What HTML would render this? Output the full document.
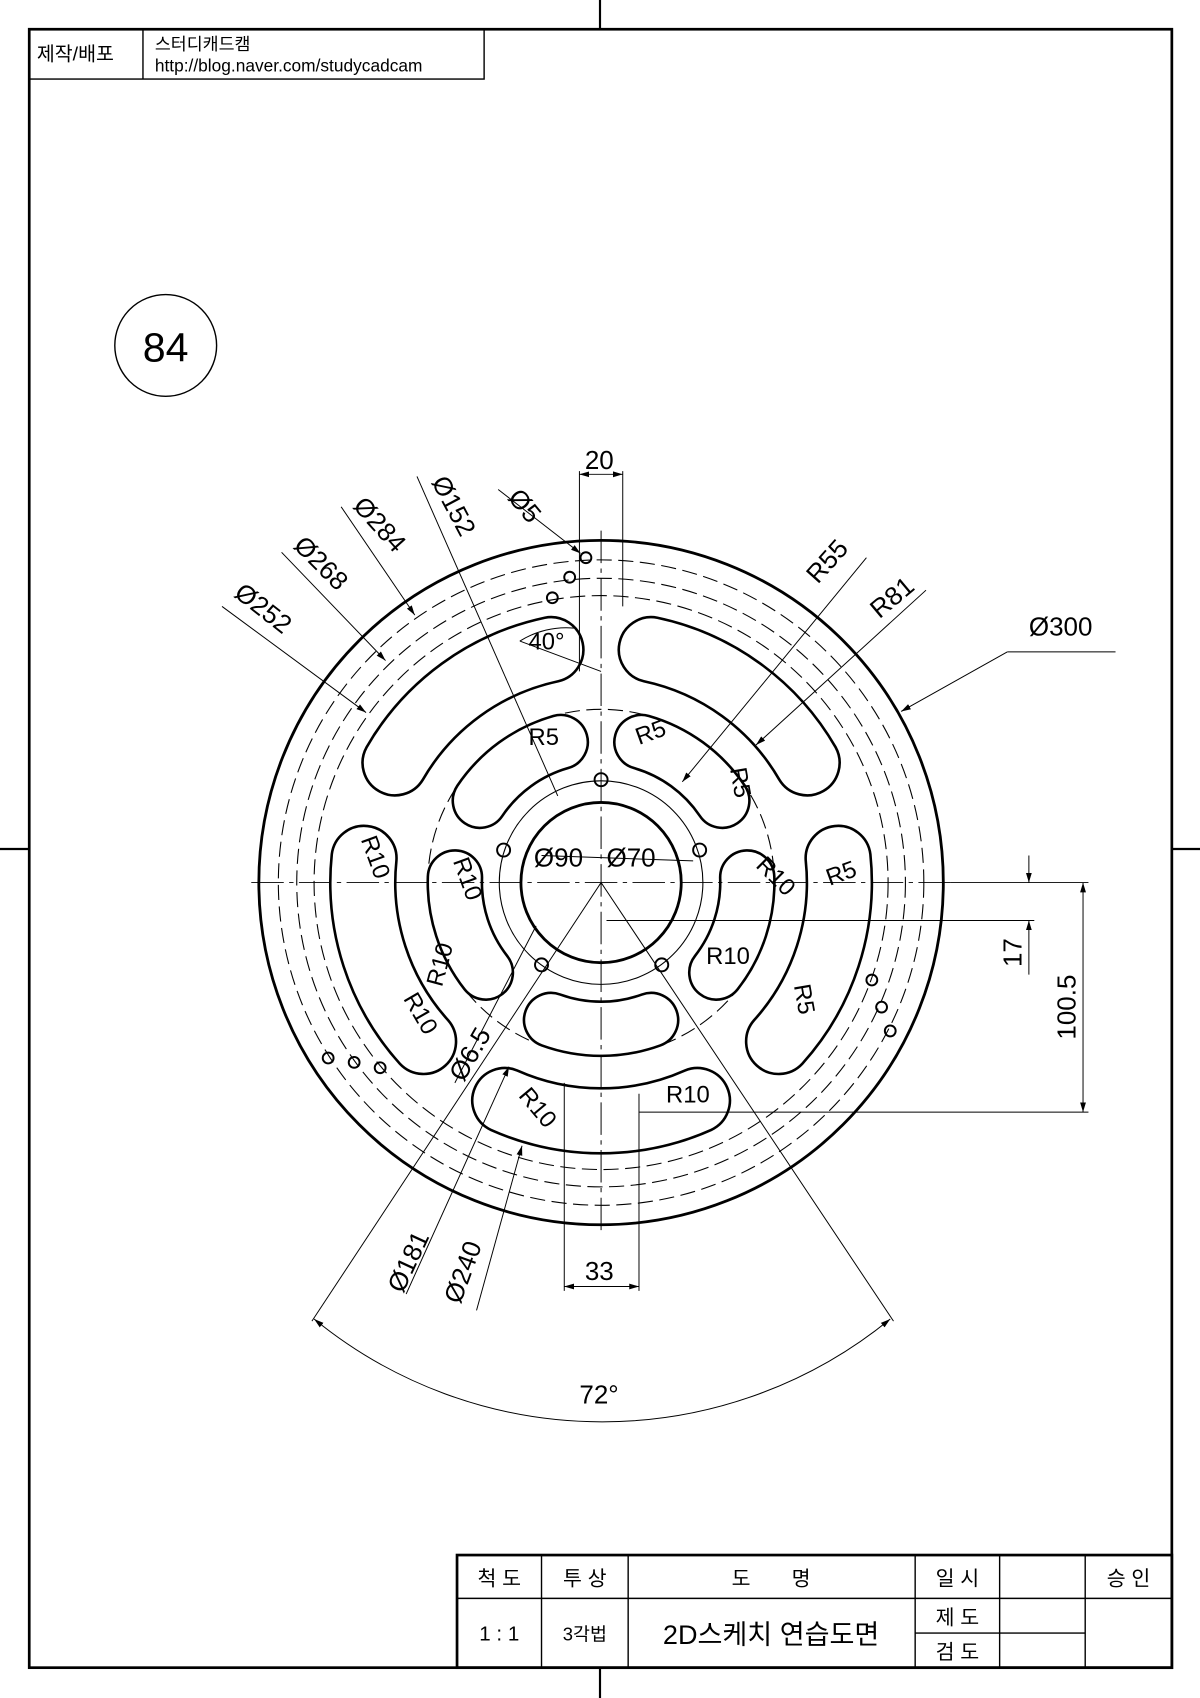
<!DOCTYPE html>
<html><head><meta charset="utf-8"><style>
html,body{margin:0;padding:0;background:#fff}
svg{display:block}
text{font-family:"Liberation Sans","Noto Sans CJK KR",sans-serif;fill:#000}
</style></head><body>
<svg width="1200" height="1698" viewBox="0 0 1108 1568" preserveAspectRatio="none" xmlns="http://www.w3.org/2000/svg">
<defs>
<marker id="a" viewBox="0 0 10 10" refX="10" refY="5" markerWidth="9" markerHeight="9" orient="auto-start-reverse" markerUnits="userSpaceOnUse"><path d="M0,2 L10,5 L0,8 z" fill="#000"/></marker>
<path id="os" d="M477.7,988.6 A190,190 0 0 0 632.3,988.6 A30,30 0 0 1 656.7,1043.4 A250,250 0 0 1 453.3,1043.4 A30,30 0 0 1 477.7,988.6 Z" fill="none" stroke="#000" stroke-width="2.4"/>
<path id="is" d="M517.4,918.4 A110,110 0 0 0 592.6,918.4 A25,25 0 0 1 609.7,965.4 A160,160 0 0 1 500.3,965.4 A25,25 0 0 1 517.4,918.4 Z" fill="none" stroke="#000" stroke-width="2.4"/>
</defs>
<rect x="27" y="27" width="1055" height="1513" fill="none" stroke="#000" stroke-width="2.5"/>
<g stroke="#000" stroke-width="2"><line x1="554" y1="0" x2="554" y2="27"/><line x1="554" y1="1540" x2="554" y2="1568"/><line x1="0" y1="784" x2="27" y2="784"/><line x1="1082" y1="784" x2="1108" y2="784"/></g>
<rect x="27" y="27" width="420" height="46" fill="none" stroke="#000" stroke-width="1.3"/>
<line x1="132" y1="27" x2="132" y2="73" stroke="#000" stroke-width="1.3"/>
<text x="34" y="56" font-size="18">제작/배포</text>
<text x="143" y="46" font-size="16">스터디캐드캠</text>
<text x="143" y="66" font-size="16">http://blog.naver.com/studycadcam</text>
<circle cx="153" cy="319" r="47" fill="none" stroke="#000" stroke-width="1.3"/>
<text x="153" y="334" font-size="38" text-anchor="middle">84</text>

<g fill="none" stroke="#000">
<circle cx="555" cy="815" r="316" stroke-width="2.6"/>
<circle cx="555" cy="815" r="298" stroke-width="1" stroke-dasharray="14,6"/>
<circle cx="555" cy="815" r="281" stroke-width="1" stroke-dasharray="14,6"/>
<circle cx="555" cy="815" r="265" stroke-width="1" stroke-dasharray="14,6"/>
<circle cx="555" cy="815" r="160" stroke-width="1" stroke-dasharray="14,6"/>
<circle cx="555" cy="815" r="94" stroke-width="1"/>
<circle cx="555" cy="815" r="74" stroke-width="2.6"/>
<use href="#os"/><use href="#os" transform="rotate(72 555 815)"/><use href="#os" transform="rotate(144 555 815)"/><use href="#os" transform="rotate(216 555 815)"/><use href="#os" transform="rotate(288 555 815)"/>
<use href="#is"/><use href="#is" transform="rotate(72 555 815)"/><use href="#is" transform="rotate(144 555 815)"/><use href="#is" transform="rotate(216 555 815)"/><use href="#is" transform="rotate(288 555 815)"/>
<g stroke-width="1.8">
<circle cx="555" cy="720" r="6"/><circle cx="465" cy="785" r="6"/><circle cx="646" cy="785" r="6"/><circle cx="500" cy="891" r="6"/><circle cx="611" cy="891" r="6"/>
<circle cx="541" cy="515" r="5"/><circle cx="526" cy="533" r="5"/><circle cx="510" cy="552" r="5"/>
<circle cx="303" cy="977" r="5"/><circle cx="327" cy="981" r="5"/><circle cx="351" cy="986" r="5"/>
<circle cx="805" cy="905" r="5"/><circle cx="814" cy="930" r="5"/><circle cx="822" cy="952" r="5"/>
</g>
<g stroke-width="0.9" stroke-dasharray="30,5,4,5">
<line x1="232" y1="815" x2="878" y2="815"/><line x1="555" y1="490" x2="555" y2="1140"/>
</g>
</g>

<g fill="none" stroke="#000" stroke-width="0.9">
<line x1="535" y1="435" x2="535" y2="620"/><line x1="575" y1="435" x2="575" y2="560"/>
<line x1="535" y1="438" x2="575" y2="438" marker-start="url(#a)" marker-end="url(#a)"/>
<line x1="521" y1="1000" x2="521" y2="1192"/><line x1="590" y1="1010" x2="590" y2="1192"/>
<line x1="521" y1="1188" x2="590" y2="1188" marker-start="url(#a)" marker-end="url(#a)"/>
<line x1="560" y1="850" x2="955" y2="850"/><line x1="590" y1="1027" x2="1005" y2="1027"/><line x1="878" y1="815" x2="1005" y2="815"/>
<line x1="950" y1="790" x2="950" y2="815" marker-end="url(#a)"/><line x1="950" y1="900" x2="950" y2="850" marker-end="url(#a)"/>
<line x1="1000" y1="815" x2="1000" y2="1027" marker-start="url(#a)" marker-end="url(#a)"/>
<line x1="1030" y1="602" x2="930" y2="602"/><line x1="930" y1="602" x2="832" y2="657" marker-end="url(#a)"/>
<line x1="800" y1="515" x2="630" y2="722" marker-end="url(#a)"/><line x1="855" y1="545" x2="698" y2="688" marker-end="url(#a)"/>
<line x1="205" y1="560" x2="338" y2="658" marker-end="url(#a)"/>
<line x1="260" y1="510" x2="356" y2="610" marker-end="url(#a)"/>
<line x1="315" y1="468" x2="383" y2="568" marker-end="url(#a)"/>
<line x1="385" y1="440" x2="515" y2="735"/>
<line x1="460" y1="452" x2="536" y2="511" marker-end="url(#a)"/>
<line x1="555" y1="815" x2="288" y2="1220"/><line x1="555" y1="815" x2="825" y2="1220"/>
<path d="M290,1218 A420,420 0 0 0 822,1218" marker-start="url(#a)" marker-end="url(#a)"/>
<line x1="440" y1="1210" x2="482" y2="1058" marker-end="url(#a)"/>
<line x1="375" y1="1195" x2="470" y2="985" marker-end="url(#a)"/>
<line x1="495" y1="855" x2="420" y2="1000"/>
<line x1="480" y1="592" x2="555" y2="620"/>
<path d="M480,592 A80,80 0 0 1 530,580"/>
<line x1="500" y1="790" x2="640" y2="795"/>
</g>

<g font-size="24">
<text x="540" y="433">20</text>
<text x="540" y="1182">33</text>
<text x="535" y="1296">72°</text>
<text x="950" y="587">Ø300</text>
<text x="493" y="800">Ø90</text>
<text x="560" y="800">Ø70</text>
<text transform="translate(943,893) rotate(-90)">17</text>
<text transform="translate(993,960) rotate(-90)">100.5</text>
<text transform="translate(755,540) rotate(-48)">R55</text>
<text transform="translate(812,572) rotate(-40)">R81</text>
<text transform="translate(468,460) rotate(50)">Ø5</text>
<text transform="translate(398,445) rotate(62)">Ø152</text>
<text transform="translate(325,468) rotate(48)">Ø284</text>
<text transform="translate(270,505) rotate(45)">Ø268</text>
<text transform="translate(215,550) rotate(38)">Ø252</text>
<text x="488" y="600" font-size="22">40°</text>
<text x="488" y="688" font-size="22">R5</text>
<text transform="translate(590,688) rotate(-20)" font-size="22">R5</text>
<text transform="translate(674,710) rotate(80)" font-size="22">R5</text>
<text transform="translate(766,818) rotate(-20)" font-size="22">R5</text>
<text transform="translate(733,910) rotate(80)" font-size="22">R5</text>
<text transform="translate(697,800) rotate(45)" font-size="22">R10</text>
<text x="652" y="890" font-size="22">R10</text>
<text x="615" y="1018" font-size="22">R10</text>
<text transform="translate(478,1012) rotate(50)" font-size="22">R10</text>
<text transform="translate(372,922) rotate(60)" font-size="22">R10</text>
<text transform="translate(418,795) rotate(70)" font-size="22">R10</text>
<text transform="translate(408,912) rotate(-75)" font-size="22">R10</text>
<text transform="translate(333,775) rotate(70)" font-size="22">R10</text>
<text transform="translate(428,1000) rotate(-60)">Ø6.5</text>
<text transform="translate(372,1195) rotate(-65)">Ø181</text>
<text transform="translate(425,1205) rotate(-70)">Ø240</text>
</g>

<g fill="none" stroke="#000" stroke-width="1.3">
<rect x="422" y="1436" width="660" height="104" stroke-width="2.5"/>
<line x1="422" y1="1476" x2="1082" y2="1476"/>
<line x1="500" y1="1436" x2="500" y2="1540"/><line x1="580" y1="1436" x2="580" y2="1540"/>
<line x1="845" y1="1436" x2="845" y2="1540"/><line x1="923" y1="1436" x2="923" y2="1540"/>
<line x1="1002" y1="1436" x2="1002" y2="1540"/>
<line x1="845" y1="1508" x2="1002" y2="1508"/>
</g>
<g font-size="19" text-anchor="middle">
<text x="461" y="1464">척 도</text><text x="540" y="1464">투 상</text><text x="712" y="1464">도　　명</text>
<text x="884" y="1464">일 시</text><text x="1042" y="1464">승 인</text>
<text x="461" y="1515">1 : 1</text><text x="540" y="1515" font-size="17">3각법</text>
<text x="712" y="1518" font-size="25">2D스케치 연습도면</text>
<text x="884" y="1500">제 도</text><text x="884" y="1532">검 도</text>
</g>
</svg>
</body></html>
